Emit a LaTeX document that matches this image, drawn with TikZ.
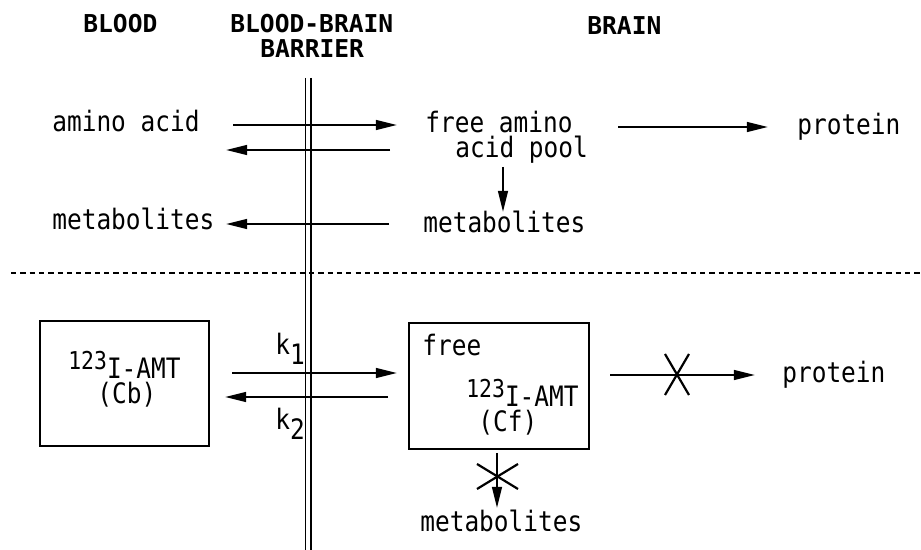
\documentclass[tikz,border=0pt]{standalone}
\usepackage{fontspec}
\newfontfamily\monof[FakeStretch=0.87]{DejaVu Sans Mono}
\newfontfamily\monoh{DejaVu Sans Mono}
\usetikzlibrary{arrows.meta}
\begin{document}
\begin{tikzpicture}[x=0.02cm,y=-0.02cm,
  txt/.style={font=\monof\fontsize{16}{18}\selectfont, inner sep=0, anchor=base west},
  hdr/.style={font=\monoh\bfseries\fontsize{14}{15}\selectfont, inner sep=0, anchor=base west},
  arr/.style={line width=1.25pt, -{Triangle[length=12pt,width=5.5pt]}},
  ln/.style={line width=1.25pt},
  box/.style={draw, line width=1.25pt, inner sep=0}]
\useasboundingbox (0,0) rectangle (921,550);
\newcommand{\supa}{\raisebox{5.5pt}{\fontsize{14}{15}\selectfont 123}}
% headers
\node[hdr] (hblood) at (83,33) {BLOOD};
\node[hdr] (hbbb1) at (230,33) {BLOOD-BRAIN};
\node[hdr] (hbbb2) at (260,58) {BARRIER};
\node[hdr] (hbrain) at (587,35) {BRAIN};
% barrier
\coordinate (bt1) at (305.5,78); \coordinate (bb1) at (305.5,550);
\coordinate (bt2) at (311,78); \coordinate (bb2) at (311,550);
\draw[line width=1.1pt] (bt1) -- (bb1);
\draw[line width=1.1pt] (bt2) -- (bb2);
% dashed separator
\coordinate (dl) at (11,273); \coordinate (dr) at (921,273);
\draw[line width=1pt, dash pattern=on 3pt off 2.3pt] (dl) -- (dr);
% top part
\node[txt] (aa) at (52,132) {amino acid};
\node[txt] (metl) at (52,230) {metabolites};
\node[txt] (faa1) at (425,133) {free amino};
\node[txt] (faa2) at (455,158) {acid pool};
\node[txt] (metm) at (423,233) {metabolites};
\node[txt] (prot1) at (797,135) {protein};
\coordinate (a1s) at (233,125); \coordinate (a1e) at (397,125);
\coordinate (a2s) at (390,150); \coordinate (a2e) at (226,150);
\coordinate (a3s) at (389,224); \coordinate (a3e) at (226,224);
\coordinate (a4s) at (503,167); \coordinate (a4e) at (503,212);
\coordinate (a5s) at (618,127); \coordinate (a5e) at (768,127);
\draw[arr] (a1s) -- (a1e);
\draw[arr] (a2s) -- (a2e);
\draw[arr] (a3s) -- (a3e);
\draw[arr] (a4s) -- (a4e);
\draw[arr] (a5s) -- (a5e);
% bottom part
\node[box, minimum width=3.38cm, minimum height=2.5cm] (cb) at (124.5,383.5) {};
\node[txt] (cbt1) at (68,379) {\supa I-AMT};
\node[txt] (cbt2) at (97,404) {(Cb)};
\node[box, minimum width=3.6cm, minimum height=2.52cm] (cf) at (499,386) {};
\node[txt] (cft0) at (422,356) {free};
\node[txt] (cft1) at (466,407) {\supa I-AMT};
\node[txt] (cft2) at (478,432) {(Cf)};
\node[txt] (k1) at (275,355) {k\raisebox{-5.5pt}{1}};
\node[txt] (k2) at (275,430) {k\raisebox{-5.5pt}{2}};
\node[txt] (prot2) at (782,383) {protein};
\node[txt] (metb) at (420,532) {metabolites};
\coordinate (b1s) at (232,373); \coordinate (b1e) at (397,373);
\coordinate (b2s) at (388,397); \coordinate (b2e) at (225,397);
\coordinate (b3s) at (610,375); \coordinate (b3e) at (755,375);
\coordinate (b4s) at (497,453); \coordinate (b4e) at (497,508);
\draw[arr] (b1s) -- (b1e);
\draw[arr] (b2s) -- (b2e);
\draw[arr] (b3s) -- (b3e);
\draw[arr] (b4s) -- (b4e);
% crosses
\coordinate (x1a) at (665,354); \coordinate (x1b) at (689,395);
\coordinate (x1c) at (689,354); \coordinate (x1d) at (665,395);
\draw[ln] (x1a) -- (x1b);
\draw[ln] (x1c) -- (x1d);
\coordinate (x2a) at (477,464); \coordinate (x2b) at (518,489);
\coordinate (x2c) at (477,489); \coordinate (x2d) at (518,464);
\draw[ln] (x2a) -- (x2b);
\draw[ln] (x2c) -- (x2d);
\end{tikzpicture}
\end{document}
